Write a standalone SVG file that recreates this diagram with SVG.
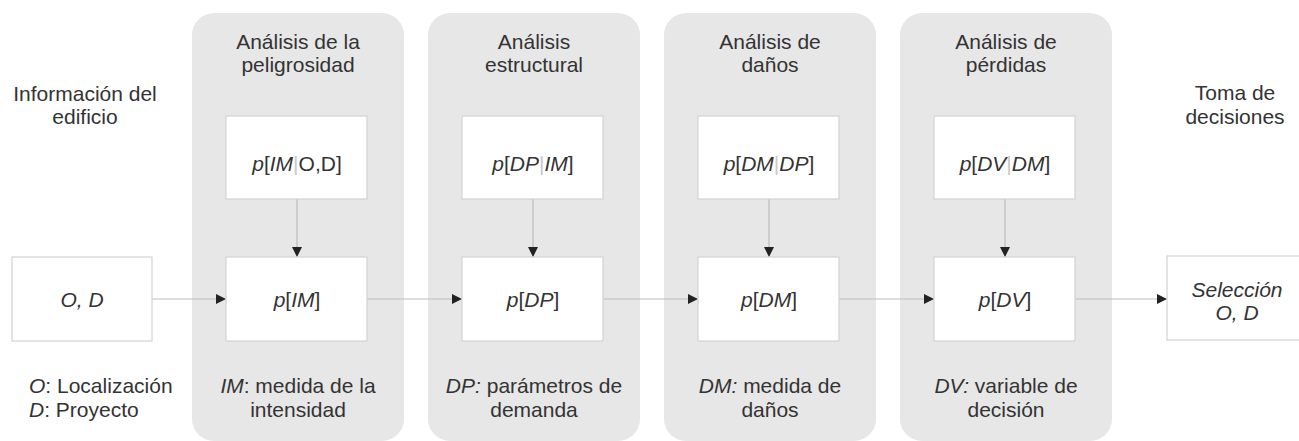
<svg xmlns="http://www.w3.org/2000/svg" width="1299" height="441" viewBox="0 0 1299 441">
<defs>
<marker id="ah" viewBox="0 0 10 10" refX="10" refY="5" markerWidth="10" markerHeight="10" markerUnits="userSpaceOnUse" orient="auto">
<path d="M0,0 L10,5 L0,10 Z" fill="#222"/>
</marker>
<style>
.panel{fill:#e7e7e7;}
.box{fill:#fff;stroke:#d2d2d2;stroke-width:1.2;}
.t{font-family:"Liberation Sans",Arial,sans-serif;font-size:21px;fill:#333;}
.m{text-anchor:middle;}
.i{font-style:italic;}
.bar{fill:#c8c8c8;font-style:normal;}
.conn{stroke:#bdbdbd;stroke-width:1.2;fill:none;}
</style>
</defs>
<rect width="1299" height="441" fill="#fff"/>

<g id="panel-peligrosidad">
<rect class="panel" x="192" y="13" width="212" height="428" rx="22"/>
<text class="t m" x="298" y="49">Análisis de la</text>
<text class="t m" x="298" y="72">peligrosidad</text>
<text class="t m" x="298" y="393"><tspan class="i">IM</tspan>: medida de la</text>
<text class="t m" x="298" y="417">intensidad</text>
</g>
<g id="panel-estructural">
<rect class="panel" x="428" y="13" width="212" height="428" rx="22"/>
<text class="t m" x="534" y="49">Análisis</text>
<text class="t m" x="534" y="72">estructural</text>
<text class="t m" x="534" y="393"><tspan class="i">DP:</tspan> parámetros de</text>
<text class="t m" x="534" y="417">demanda</text>
</g>
<g id="panel-danos">
<rect class="panel" x="664" y="13" width="212" height="428" rx="22"/>
<text class="t m" x="770" y="49">Análisis de</text>
<text class="t m" x="770" y="72">daños</text>
<text class="t m" x="770" y="393"><tspan class="i">DM:</tspan> medida de</text>
<text class="t m" x="770" y="417">daños</text>
</g>
<g id="panel-perdidas">
<rect class="panel" x="900" y="13" width="212" height="428" rx="22"/>
<text class="t m" x="1006" y="49">Análisis de</text>
<text class="t m" x="1006" y="72">pérdidas</text>
<text class="t m" x="1006" y="393"><tspan class="i">DV:</tspan> variable de</text>
<text class="t m" x="1006" y="417">decisión</text>
</g>

<g id="info-edificio">
<text class="t m" x="85" y="101">Información del</text>
<text class="t m" x="85" y="124">edificio</text>
<text class="t" x="29" y="393"><tspan class="i">O</tspan>: Localización</text>
<text class="t" x="29" y="417"><tspan class="i">D</tspan>: Proyecto</text>
</g>
<g id="toma-decisiones">
<text class="t m" x="1235" y="100">Toma de</text>
<text class="t m" x="1235" y="124">decisiones</text>
</g>

<g id="connectors">
<line class="conn" x1="152" y1="299" x2="226" y2="299" marker-end="url(#ah)"/>
<line class="conn" x1="367" y1="299" x2="462" y2="299" marker-end="url(#ah)"/>
<line class="conn" x1="603" y1="299" x2="698" y2="299" marker-end="url(#ah)"/>
<line class="conn" x1="839" y1="299" x2="934" y2="299" marker-end="url(#ah)"/>
<line class="conn" x1="1075" y1="299" x2="1167" y2="299" marker-end="url(#ah)"/>
<line class="conn" x1="297" y1="199" x2="297" y2="257" marker-end="url(#ah)"/>
<line class="conn" x1="533" y1="199" x2="533" y2="257" marker-end="url(#ah)"/>
<line class="conn" x1="769" y1="199" x2="769" y2="257" marker-end="url(#ah)"/>
<line class="conn" x1="1005" y1="199" x2="1005" y2="257" marker-end="url(#ah)"/>
</g>

<g id="node-OD">
<rect class="box" x="12" y="257" width="140" height="84"/>
<text class="t m i" x="82" y="307">O, D</text>
</g>
<g id="node-pIM-OD">
<rect class="box" x="226" y="116" width="141" height="83"/>
<text class="t m" x="297" y="171"><tspan class="i">p</tspan>[<tspan class="i">IM</tspan><tspan class="bar">|</tspan>O,D]</text>
</g>
<g id="node-pIM">
<rect class="box" x="226" y="257" width="141" height="84"/>
<text class="t m" x="297" y="307"><tspan class="i">p</tspan>[<tspan class="i">IM</tspan>]</text>
</g>
<g id="node-pDP-IM">
<rect class="box" x="462" y="116" width="141" height="83"/>
<text class="t m i" x="533" y="171">p<tspan font-style="normal">[</tspan>DP<tspan class="bar">|</tspan>IM<tspan font-style="normal">]</tspan></text>
</g>
<g id="node-pDP">
<rect class="box" x="462" y="257" width="141" height="84"/>
<text class="t m" x="533" y="307"><tspan class="i">p</tspan>[<tspan class="i">DP</tspan>]</text>
</g>
<g id="node-pDM-DP">
<rect class="box" x="698" y="116" width="141" height="83"/>
<text class="t m i" x="769" y="171">p<tspan font-style="normal">[</tspan>DM<tspan class="bar">|</tspan>DP<tspan font-style="normal">]</tspan></text>
</g>
<g id="node-pDM">
<rect class="box" x="698" y="257" width="141" height="84"/>
<text class="t m" x="769" y="307"><tspan class="i">p</tspan>[<tspan class="i">DM</tspan>]</text>
</g>
<g id="node-pDV-DM">
<rect class="box" x="934" y="116" width="141" height="83"/>
<text class="t m i" x="1005" y="171">p<tspan font-style="normal">[</tspan>DV<tspan class="bar">|</tspan>DM<tspan font-style="normal">]</tspan></text>
</g>
<g id="node-pDV">
<rect class="box" x="934" y="257" width="141" height="84"/>
<text class="t m" x="1005" y="307"><tspan class="i">p</tspan>[<tspan class="i">DV</tspan>]</text>
</g>
<g id="node-seleccion">
<rect class="box" x="1167" y="256" width="145" height="84"/>
<text class="t m i" x="1237" y="297">Selección</text>
<text class="t m i" x="1237" y="320">O, D</text>
</g>
</svg>
